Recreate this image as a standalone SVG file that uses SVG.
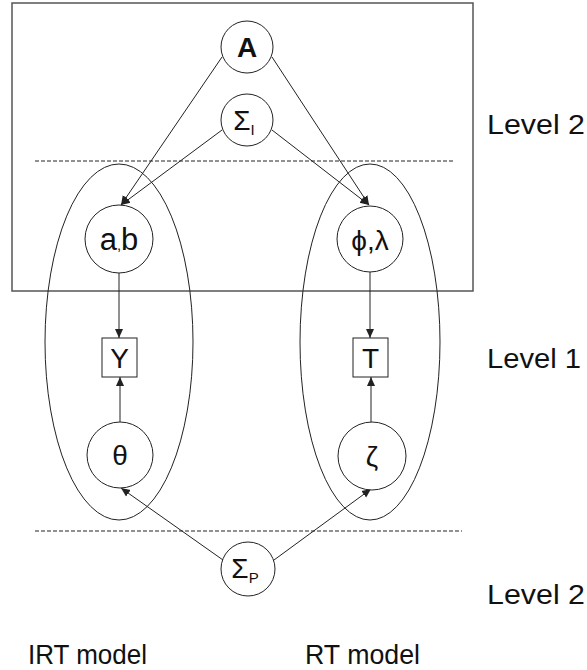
<svg xmlns="http://www.w3.org/2000/svg" width="587" height="670" viewBox="0 0 587 670">
<style>
.n{fill:#fff;stroke:#222;stroke-width:1}
.c{fill:none;stroke:#222;stroke-width:1}
.e{fill:none;stroke:#222;stroke-width:1}
.d{stroke:#222;stroke-width:1;stroke-dasharray:4,2;fill:none}
.t{font-family:"Liberation Sans",Arial,sans-serif;fill:#111}
.lab{font-family:"Liberation Sans",Arial,sans-serif;font-size:28px;fill:#111}
</style>
<defs>
<marker id="ah" markerWidth="10" markerHeight="10" refX="9" refY="5" orient="auto" markerUnits="userSpaceOnUse">
<path d="M0,1 L9,5 L0,9 Z" fill="#222"/>
</marker>
</defs>
<rect x="12" y="3" width="461" height="288" fill="none" stroke="#555" stroke-width="1.5"/>
<line class="d" x1="35" y1="161" x2="453" y2="161"/>
<line class="d" x1="35" y1="531" x2="462" y2="531"/>
<ellipse class="e" cx="119" cy="342" rx="74" ry="178"/>
<ellipse class="e" cx="370" cy="342" rx="70" ry="178"/>
<g id="connectors">
<line class="c" x1="222" y1="57" x2="121" y2="205" marker-end="url(#ah)"/>
<line class="c" x1="222" y1="130" x2="121" y2="205" marker-end="url(#ah)"/>
<line class="c" x1="272" y1="57" x2="369" y2="205" marker-end="url(#ah)"/>
<line class="c" x1="272" y1="130" x2="369" y2="205" marker-end="url(#ah)"/>
<line class="c" x1="119" y1="273" x2="119" y2="338" marker-end="url(#ah)"/>
<line class="c" x1="120" y1="422" x2="120" y2="377" marker-end="url(#ah)"/>
<line class="c" x1="370" y1="272" x2="370" y2="338" marker-end="url(#ah)"/>
<line class="c" x1="371" y1="423" x2="371" y2="377" marker-end="url(#ah)"/>
<line class="c" x1="223" y1="560" x2="121" y2="488" marker-end="url(#ah)"/>
<line class="c" x1="274" y1="560" x2="371" y2="489" marker-end="url(#ah)"/>
</g>
<g id="A">
<circle class="n" cx="247" cy="47" r="26"/>
<text class="t" x="247" y="57" font-size="28" font-weight="bold" text-anchor="middle">A</text>
</g>
<g id="SigmaI">
<circle class="n" cx="247" cy="120" r="26"/>
<text class="t" x="244" y="130" font-size="28" text-anchor="middle">Σ<tspan font-size="15" dy="5">I</tspan></text>
</g>
<g id="ab">
<circle class="n" cx="119" cy="239" r="34"/>
<text class="t" x="119" y="250" font-size="31" text-anchor="middle">a<tspan font-size="15">,</tspan>b</text>
</g>
<g id="philambda">
<circle class="n" cx="370" cy="239" r="33"/>
<text class="t" x="370" y="250" font-size="28" text-anchor="middle" font-family="'DejaVu Serif',serif">ϕ,λ</text>
</g>
<g id="Y">
<rect class="n" x="102" y="338" width="35" height="39"/>
<text class="t" x="119.5" y="368" font-size="28" text-anchor="middle">Y</text>
</g>
<g id="T">
<rect class="n" x="353" y="338" width="35" height="39"/>
<text class="t" x="370.5" y="368" font-size="28" text-anchor="middle">T</text>
</g>
<g id="theta">
<circle class="n" cx="120" cy="455" r="33"/>
<text class="t" x="120" y="465" font-size="28" text-anchor="middle">θ</text>
</g>
<g id="zeta">
<circle class="n" cx="372" cy="456" r="34"/>
<text class="t" x="372" y="466" font-size="28" text-anchor="middle" font-family="'DejaVu Serif',serif">ζ</text>
</g>
<g id="SigmaP">
<circle class="n" cx="248" cy="569" r="27"/>
<text class="t" x="245" y="578" font-size="28" text-anchor="middle">Σ<tspan font-size="15" dy="5">P</tspan></text>
</g>
<text class="lab" x="487" y="134" textLength="98" lengthAdjust="spacingAndGlyphs">Level 2</text>
<text class="lab" x="487" y="368" textLength="94" lengthAdjust="spacingAndGlyphs">Level 1</text>
<text class="lab" x="487" y="604" textLength="98" lengthAdjust="spacingAndGlyphs">Level 2</text>
<text class="lab" x="28" y="664" textLength="119" lengthAdjust="spacingAndGlyphs">IRT model</text>
<text class="lab" x="305" y="664" textLength="115" lengthAdjust="spacingAndGlyphs">RT model</text>
</svg>
